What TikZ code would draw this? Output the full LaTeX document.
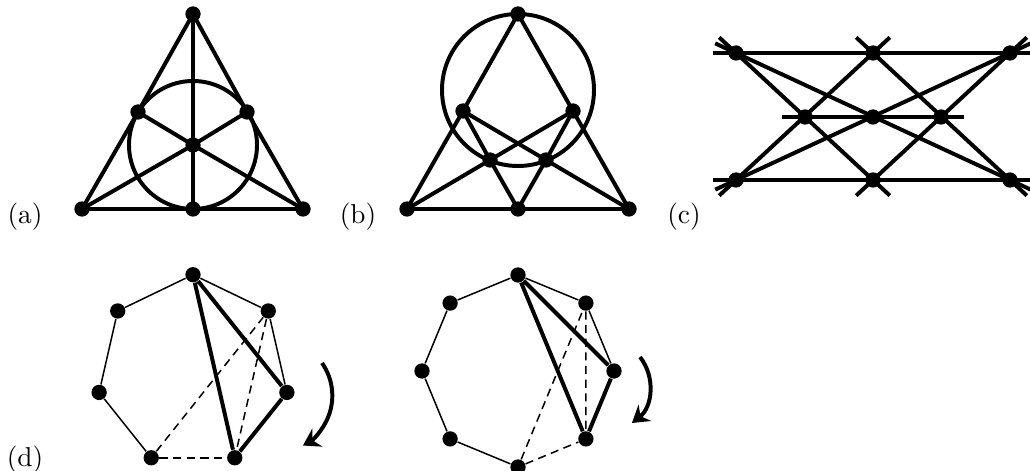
\documentclass[tikz,border=0pt]{standalone}
\usepackage{tikz}
\usetikzlibrary{arrows.meta}
\tikzset{
  vtx/.style={circle,fill=black,inner sep=0pt,minimum size=5.6pt},
  fano/.style={line width=1.45pt},
  thinedge/.style={line width=0.55pt},
  thickedge/.style={line width=1.45pt},
  dashedge/.style={line width=0.55pt,dash pattern=on 3pt off 2pt},
  pappus/.style={line width=1.45pt,shorten <=-8.4pt,shorten >=-8.4pt},
  turn/.style={line width=1.45pt,-{Stealth[length=6pt,width=7.5pt,inset=2pt]}},
  sublabel/.style={anchor=base,inner sep=0pt}
}

\begin{document}
\begin{tikzpicture}[x=0.366pt,y=-0.366pt]
    \useasboundingbox (0,0) rectangle (1030,471);
    % (a) triangle with incircle
    \node[vtx] (a1) at (193,14) {};
    \node[vtx] (a2) at (138,112) {};
    \node[vtx] (a3) at (247,112) {};
    \node[vtx] (a4) at (193,145) {};
    \node[vtx] (a5) at (82,209) {};
    \node[vtx] (a6) at (193,209) {};
    \node[vtx] (a7) at (303,209) {};
    \draw[fano] (a1.center) -- (a2.center) -- (a5.center) -- (a6.center)
      -- (a7.center) -- (a3.center) -- cycle;
    \draw[fano] (a1.center) -- (a4.center) -- (a6.center);
    \draw[fano] (a2.center) -- (a4.center) -- (a7.center);
    \draw[fano] (a3.center) -- (a4.center) -- (a5.center);
    \draw[fano] (a4.center) circle[radius=64];
    \node[sublabel] (labA) at (25,223) {(a)};
    % (b) eight points, circle through the top
    \node[vtx] (b1) at (518,14) {};
    \node[vtx] (b2) at (463,111) {};
    \node[vtx] (b3) at (573,111) {};
    \node[vtx] (b4) at (490,160) {};
    \node[vtx] (b5) at (546,160) {};
    \node[vtx] (b6) at (407,209) {};
    \node[vtx] (b7) at (518,209) {};
    \node[vtx] (b8) at (629,209) {};
    \coordinate (bc) at (518,90);
    \draw[fano] (b1.center) -- (b2.center) -- (b6.center) -- (b7.center)
      -- (b8.center) -- (b3.center) -- cycle;
    \draw[fano] (b2.center) -- (b4.center) -- (b7.center);
    \draw[fano] (b3.center) -- (b5.center) -- (b7.center);
    \draw[fano] (b2.center) -- (b5.center) -- (b8.center);
    \draw[fano] (b3.center) -- (b4.center) -- (b6.center);
    \draw[fano] (bc) circle[radius=76];
    \node[sublabel] (labB) at (358,223) {(b)};
    % (c) nine points, nine lines
    \node[vtx] (c1) at (736,53) {};
    \node[vtx] (c2) at (873,53) {};
    \node[vtx] (c3) at (1010,53) {};
    \node[vtx] (c4) at (805,117) {};
    \node[vtx] (c5) at (873,117) {};
    \node[vtx] (c6) at (941,117) {};
    \node[vtx] (c7) at (736,180) {};
    \node[vtx] (c8) at (873,180) {};
    \node[vtx] (c9) at (1010,180) {};
    \draw[pappus] (c1.center) -- (c3.center);
    \draw[pappus] (c4.center) -- (c6.center);
    \draw[pappus] (c7.center) -- (c9.center);
    \draw[pappus] (c1.center) -- (c8.center);
    \draw[pappus] (c2.center) -- (c7.center);
    \draw[pappus] (c2.center) -- (c9.center);
    \draw[pappus] (c3.center) -- (c8.center);
    \draw[pappus] (c1.center) -- (c9.center);
    \draw[pappus] (c7.center) -- (c3.center);
    \node[sublabel] (labC) at (684,223) {(c)};
    % (d) heptagon
    \foreach \k in {0,...,6}
      \node[vtx] (h\k) at ({193+96.3*sin(\k*360/7)},{371-96.3*cos(\k*360/7)}) {};
    \draw[thinedge] (h1) -- (h0) -- (h6) -- (h5) -- (h4);
    \draw[thinedge] (h1) -- (h2);
    \draw[thickedge] (h0) -- (h2) -- (h3) -- (h0);
    \draw[dashedge] (h4) -- (h3);
    \draw[dashedge] (h4) -- (h1) -- (h3);
    \coordinate (rotH) at (322,363);
    \draw[turn] (rotH) arc[start angle=-35,end angle=61,radius=57];
    \node[sublabel] (labD) at (25,466) {(d)};
    % (d) octagon
    \foreach \k in {0,...,7}
      \node[vtx] (o\k) at ({518+96*sin(\k*45)},{371-96*cos(\k*45)}) {};
    \draw[thinedge] (o1) -- (o0) -- (o7) -- (o6) -- (o5) -- (o4);
    \draw[thinedge] (o1) -- (o2);
    \draw[thickedge] (o0) -- (o2) -- (o3) -- (o0);
    \draw[dashedge] (o4) -- (o3);
    \draw[dashedge] (o4) -- (o1) -- (o3);
    \coordinate (rotO) at (640,357);
    \draw[turn] (rotO) arc[start angle=-38,end angle=52,radius=47];
\end{tikzpicture}
\end{document}
